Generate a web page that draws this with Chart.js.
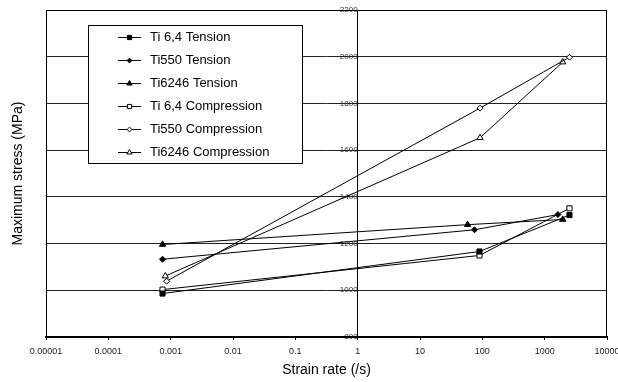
<!DOCTYPE html>
<html>
<head>
<meta charset="utf-8">
<script src="https://cdn.jsdelivr.net/npm/chart.js@4/dist/chart.umd.min.js"></script>
<style>
  html, body { margin: 0; padding: 0; background: #fff; }
  #wrap { width: 618px; height: 382px; }
</style>
</head>
<body>
<div id="wrap"><canvas id="myChart"></canvas></div>
<script>
// series labels
const seriesNames = [
  "Ti 6,4 Tension",
  "Ti550 Tension",
  "Ti6246 Tension",
  "Ti 6,4 Compression",
  "Ti550 Compression",
  "Ti6246 Compression",
];

// strain rate (/s) and max stress (MPa)
const rateTi64T = [7.4e-4, 90, 2500];
const stressTi64T = [986, 1166, 1322];
const rateTi550T = [7.4e-4, 75, 1630];
const stressTi550T = [1133, 1259, 1324];
const rateTi6246T = [7.4e-4, 58, 1950];
const stressTi6246T = [1196, 1281, 1303];
const rateTi64C = [7.4e-4, 90, 2500];
const stressTi64C = [1003, 1149, 1351];
const rateTi550C = [8.6e-4, 92, 2500];
const stressTi550C = [1039, 1780, 1998];
const rateTi6246C = [8.2e-4, 92, 1950];
const stressTi6246C = [1061, 1653, 1977];

// axis ticks
const xTicks = [1e-5, 1e-4, 1e-3, 1e-2, 1e-1, 1, 10, 100, 1000, 10000];
const xTickLabels = ["0.00001", "0.0001", "0.001", "0.01", "0.1", "1", "10", "100", "1000", "10000"];
const yTicks = [800, 1000, 1200, 1400, 1600, 1800, 2000, 2200];

const FONT = 'Arial, "Liberation Sans", sans-serif';
const ctx = document.getElementById("myChart");

function pts(xs, ys) {
  return xs.map((x, i) => ({ x: x, y: ys[i] }));
}

function series(name, xs, ys, style, filled, radius) {
  return {
    label: name,
    data: pts(xs, ys),
    showLine: true,
    borderColor: "#000",
    borderWidth: 1,
    pointStyle: style,
    pointRadius: radius,
    pointBorderWidth: 1,
    pointBorderColor: "#000",
    pointBackgroundColor: filled ? "#000" : "#fff",
  };
}

const datasets = [
  series(seriesNames[0], rateTi64T, stressTi64T, "rect", true, 3.6),
  series(seriesNames[1], rateTi550T, stressTi550T, "rectRot", true, 3),
  series(seriesNames[2], rateTi6246T, stressTi6246T, "triangle", true, 3.6),
  series(seriesNames[3], rateTi64C, stressTi64C, "rect", false, 3.6),
  series(seriesNames[4], rateTi550C, stressTi550C, "rectRot", false, 3),
  series(seriesNames[5], rateTi6246C, stressTi6246C, "triangle", false, 3.6),
];

// frame, axis titles and the boxed legend
const extras = {
  id: "extras",
  afterDraw(chart) {
    const c = chart.ctx;
    const a = chart.chartArea;
    c.save();
    c.strokeStyle = "#000";
    c.lineWidth = 1;
    c.beginPath();
    c.moveTo(a.left + 0.5, a.bottom);
    c.lineTo(a.left + 0.5, a.top + 0.5);
    c.lineTo(a.right - 0.5, a.top + 0.5);
    c.lineTo(a.right - 0.5, a.bottom);
    c.stroke();

    c.fillStyle = "#000";
    c.font = "14px " + FONT;
    c.textAlign = "center";
    c.textBaseline = "middle";
    c.fillText("Strain rate (/s)", (a.left + a.right) / 2, 370);
    c.save();
    c.translate(18, (a.top + a.bottom) / 2);
    c.rotate(-Math.PI / 2);
    c.fillText("Maximum stress (MPa)", 0, 0);
    c.restore();

    // legend
    const lx = 88, ly = 25, lw = 214, lh = 138;
    c.fillStyle = "#fff";
    c.fillRect(lx, ly, lw, lh);
    c.strokeRect(lx + 0.5, ly + 0.5, lw, lh);
    c.font = "13px " + FONT;
    c.textAlign = "left";
    chart.data.datasets.forEach((ds, i) => {
      const y = 37.5 + i * 23;
      c.strokeStyle = "#000";
      c.beginPath();
      c.moveTo(118, y);
      c.lineTo(141, y);
      c.stroke();
      c.fillStyle = ds.pointBackgroundColor;
      c.strokeStyle = "#000";
      c.lineWidth = 1;
      Chart.helpers.drawPoint(c, { pointStyle: ds.pointStyle, radius: ds.pointRadius - 0.6, borderWidth: 1 }, 129.5, y);
      c.fillStyle = "#000";
      c.fillText(ds.label, 150, y);
    });
    c.restore();
  },
};

new Chart(ctx, {
  type: "scatter",
  data: { datasets: datasets },
  options: {
    responsive: true,
    maintainAspectRatio: false,
    animation: false,
    layout: { padding: { left: 46, right: 11, top: 10, bottom: 0 } },
    plugins: { legend: { display: false }, tooltip: { enabled: false } },
    scales: {
      x: {
        type: "logarithmic",
        min: 1e-5,
        max: 1e4,
        afterBuildTicks: (s) => { s.ticks = xTicks.map((v) => ({ value: v })); },
        afterFit: (s) => { s.height = 45; s.paddingLeft = 0; s.paddingRight = 0; },
        grid: { display: true, drawOnChartArea: false, drawTicks: true, tickLength: 3, color: "#000" },
        border: { display: true, color: "#000", width: 2 },
        ticks: {
          autoSkip: false,
          maxRotation: 0,
          padding: 6,
          color: "#222",
          font: { family: FONT, size: 9 },
          callback: (v, i) => xTickLabels[i],
        },
      },
      y: {
        type: "linear",
        position: { x: 1 },
        min: 800,
        max: 2200,
        afterBuildTicks: (s) => { s.ticks = yTicks.map((v) => ({ value: v })); },
        grid: { color: "#222", lineWidth: 1, tickLength: 5, z: -1 },
        border: { display: true, color: "#000", width: 1 },
        ticks: {
          z: -2,
          padding: 2,
          color: "#333",
          font: { family: FONT, size: 8 },
          callback: (v) => String(v),
        },
      },
    },
  },
  plugins: [extras],
});
</script>
</body>
</html>
